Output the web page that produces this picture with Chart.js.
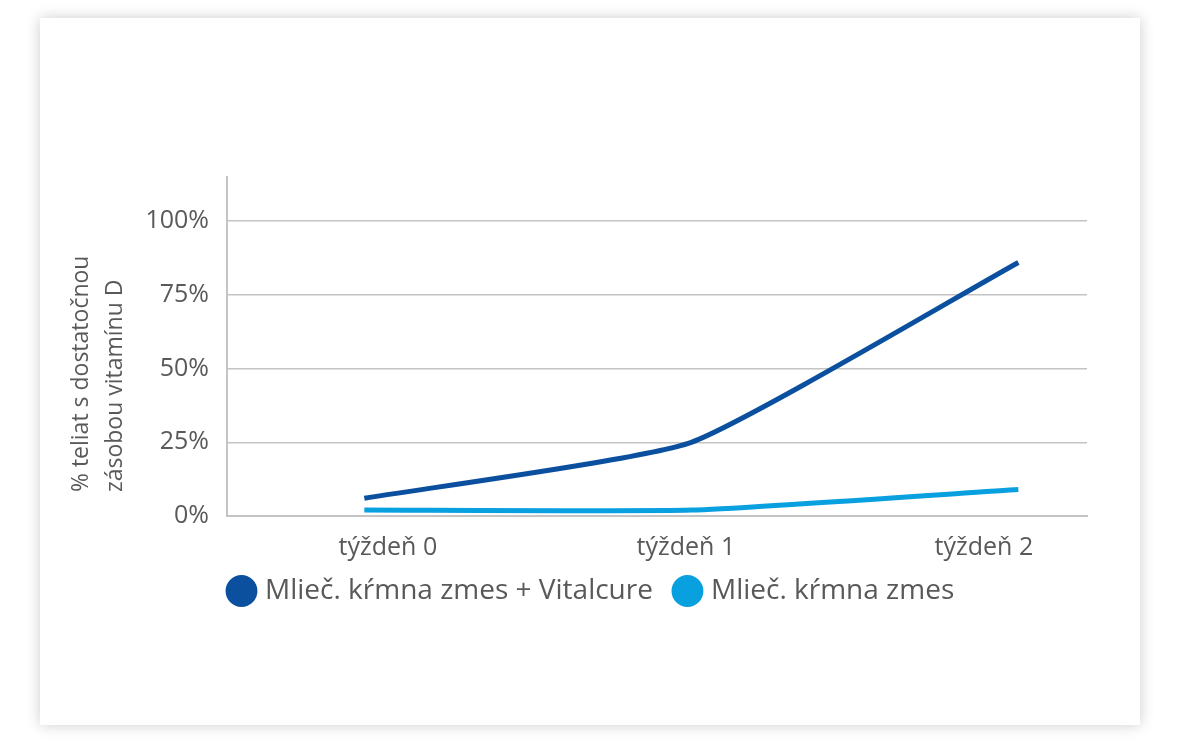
<!DOCTYPE html>
<html>
<head>
<meta charset="utf-8">
<script src="https://cdn.jsdelivr.net/npm/chart.js@4.4.1/dist/chart.umd.min.js"></script>
<style>
    body { margin: 0; background: #ffffff; }
    .card {
        position: absolute; left: 40px; top: 18px; width: 1100px; height: 707px;
        background: #fff; box-shadow: 0 0 14px rgba(0, 0, 0, 0.2);
    }
</style>
</head>
<body>
<div class="card"><canvas id="vitaminChart" width="1100" height="707"></canvas></div>
<script>
// Datos del gráfico
const tyzdne = ['týždeň 0', 'týždeň 1', 'týždeň 2'];
const sVitalcure = [6, 25, 86];
const bezVitalcure = [2, 2, 9];
const yTicks = [0, 25, 50, 75, 100];
const nazvySerii = ['Mlieč. kŕmna zmes + Vitalcure', 'Mlieč. kŕmna zmes'];

const textColor = '#595959';
const gridColor = '#c4c4c4';

function toPoints(values) {
    return values.map((v, i) => ({ x: i, y: v }));
}

// Posunúť legendu pod os Y
const legendShift = {
    id: 'legendShift',
    afterLayout(chart) {
        chart.legend.left = chart.chartArea.left - 20;
        chart.legend.top -= 14;
        chart.legend.bottom -= 14;
    }
};

const ctx = document.getElementById('vitaminChart').getContext('2d');
new Chart(ctx, {
    type: 'line',
    data: {
        datasets: [{
            label: nazvySerii[0],
            data: toPoints(sVitalcure),
            borderColor: '#0b4f9f',
            backgroundColor: '#0b4f9f',
            borderWidth: 5,
            tension: 0.15,
            pointRadius: 0,
            xAxisID: 'x'
        }, {
            label: nazvySerii[1],
            data: toPoints(bezVitalcure),
            borderColor: '#09a0e0',
            backgroundColor: '#09a0e0',
            borderWidth: 5,
            tension: 0.15,
            pointRadius: 0,
            xAxisID: 'x'
        }]
    },
    plugins: [legendShift],
    options: {
        responsive: false,
        animation: false,
        layout: { padding: { top: 159, right: 53, left: 20, bottom: 96 } },
        plugins: {
            tooltip: { enabled: false },
            legend: {
                position: 'bottom',
                align: 'start',
                fullSize: false,
                labels: {
                    usePointStyle: true,
                    pointStyle: 'circle',
                    boxWidth: 19,
                    boxHeight: 19,
                    padding: 25,
                    color: textColor,
                    font: { family: 'Open Sans', size: 28 }
                }
            }
        },
        scales: {
            x: {
                type: 'linear',
                display: false,
                min: -0.42,
                max: 2.21
            },
            xl: {
                type: 'linear',
                position: 'bottom',
                min: -0.54,
                max: 2.346,
                afterBuildTicks: (scale) => {
                    scale.ticks = tyzdne.map((t, i) => ({ value: i }));
                },
                afterFit: (scale) => { scale.height = 50; },
                grid: { display: false, drawTicks: false },
                border: { display: true, color: gridColor, width: 2 },
                ticks: {
                    padding: 17,
                    maxRotation: 0,
                    autoSkip: false,
                    color: textColor,
                    font: { family: 'Open Sans', size: 25 },
                    callback: (v) => tyzdne[v]
                }
            },
            y: {
                min: 0,
                max: 115,
                afterBuildTicks: (scale) => {
                    scale.ticks = yTicks.map(v => ({ value: v }));
                },
                afterFit: (scale) => { scale.width = 167; },
                grid: { color: gridColor, lineWidth: 1.5, drawTicks: false },
                border: { display: true, color: gridColor, width: 2 },
                ticks: {
                    padding: 18,
                    color: textColor,
                    font: { family: 'Open Sans', size: 25 },
                    callback: (v) => v + '%'
                },
                title: {
                    display: true,
                    align: 'start',
                    text: ['    % teliat s dostatočnou', '    zásobou vitamínu D'],
                    color: textColor,
                    font: { family: 'Open Sans', size: 23, lineHeight: 1.48 }
                }
            }
        }
    }
});
</script>
</body>
</html>
